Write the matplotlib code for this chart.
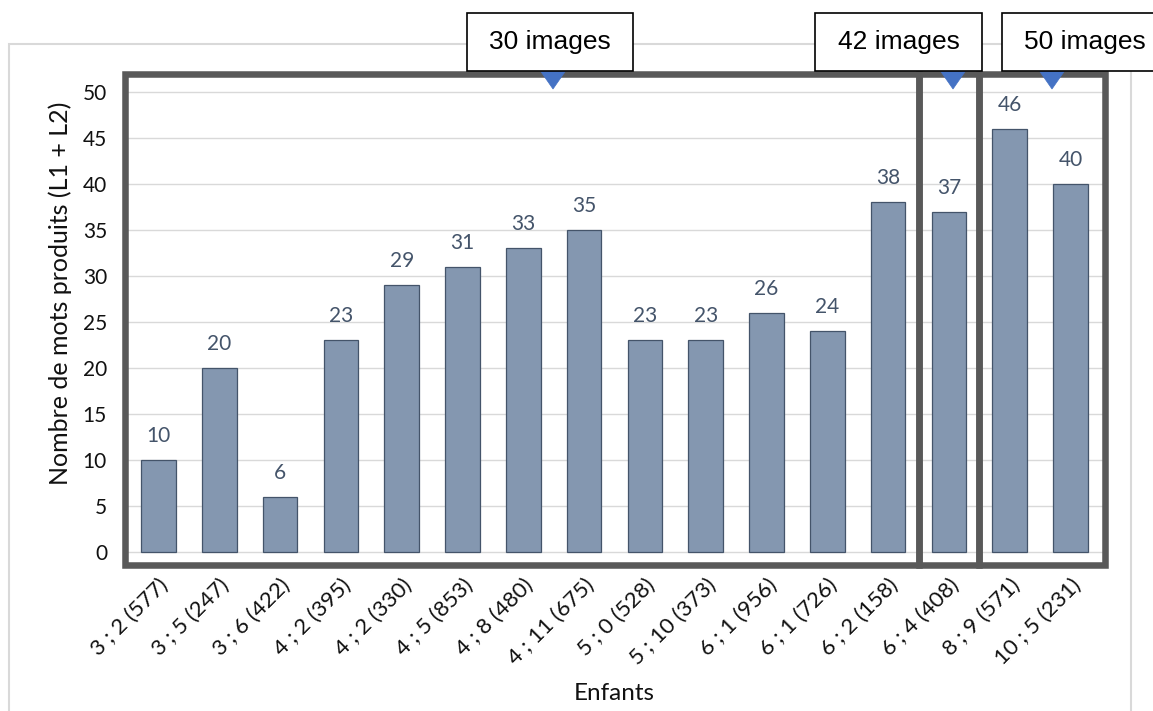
import matplotlib
matplotlib.use("Agg")
import matplotlib.pyplot as plt
from matplotlib.patches import Rectangle, Polygon
import matplotlib.transforms as mtransforms

# Children: age (years ; months) and number of tokens
enfants = ["3 ; 2 (577)", "3 ; 5 (247)", "3 ; 6 (422)", "4 ; 2 (395)",
           "4 ; 2 (330)", "4 ; 5 (853)", "4 ; 8 (480)", "4 ; 11 (675)",
           "5 ; 0 (528)", "5 ; 10 (373)", "6 ; 1 (956)", "6 ; 1 (726)",
           "6 ; 2 (158)", "6 ; 4 (408)", "8 ; 9 (571)", "10 ; 5 (231)"]
mots = [10, 20, 6, 23, 29, 31, 33, 35, 23, 23, 26, 24, 38, 37, 46, 40]

# Picture-set groups: label and index of the last child in each group
groupes = ["30 images", "42 images", "50 images"]
groupe_fin = [12, 13, 15]

yticks = list(range(0, 51, 5))

W, H, DPI = 1153, 711, 100
fig = plt.figure(figsize=(W / DPI, H / DPI), dpi=DPI)
fig.patch.set_facecolor("white")


def fx(px):
    return px / W


def fy(py):
    return 1 - py / H


BODY = "Lato"
BOX_FONT = "Liberation Sans"

# Axes frame (outer edges of the thick group boxes)
left_px, right_px, top_px, bot_px = 124.5, 1104.5, 73.5, 565.0
ax = fig.add_axes([fx(left_px), fy(bot_px), fx(right_px) - fx(left_px),
                   fy(top_px) - fy(bot_px)])

n = len(mots)
step = (1101 - 128) / n
pad = (128 - left_px) / step
ax.set_xlim(-0.5 - pad, n - 0.5 + pad)
# y scale: 0 at 552 px, 50 at 92 px
ppu = (552 - 92) / 50
ax.set_ylim(-(bot_px - 552) / ppu, (552 - top_px) / ppu)

for s in ax.spines.values():
    s.set_visible(False)

ax.set_axisbelow(True)
ax.set_yticks(yticks)
ax.yaxis.grid(True, color="#D9D9D9", linewidth=1.0)
ax.xaxis.grid(False)

x = list(range(n))
ax.bar(x, mots, width=0.57, color="#8497B0", edgecolor="#44546A",
       linewidth=0.9, zorder=2)

for xi, v in zip(x, mots):
    ax.annotate(str(v), (xi, v), xytext=(0, 13), textcoords="offset points",
                ha="center", va="baseline", color="#44546A",
                fontsize=15, family=BODY)

ax.tick_params(axis="y", length=0, pad=12.6, labelsize=15, labelcolor="#111111")
for lab in ax.get_yticklabels():
    lab.set_family(BODY)

ax.set_xticks(x)
ax.set_xticklabels(enfants, rotation=45, ha="right", va="top",
                   rotation_mode="anchor", fontsize=16, family=BODY,
                   color="#111111")
ax.tick_params(axis="x", length=0, pad=7.2)

ax.set_xlabel("Enfants", fontsize=17.5, family=BODY, color="#111111")
ax.xaxis.set_label_coords(0.5, (bot_px - 683) / (bot_px - top_px))
ax.set_ylabel("Nombre de mots produits (L1 + L2)", fontsize=18, family=BODY,
              color="#111111")
ax.yaxis.set_label_coords((72 - left_px) / (right_px - left_px),
                          (bot_px - 293) / (bot_px - top_px))

# Thick boxes around each picture-set group
xmin, xmax = ax.get_xlim()
bounds = [xmin] + [e + 0.5 for e in groupe_fin[:-1]] + [xmax]
blend = mtransforms.blended_transform_factory(ax.transData, ax.transAxes)
for i in range(len(groupes)):
    ax.add_patch(Rectangle((bounds[i], 0), bounds[i + 1] - bounds[i], 1,
                           transform=blend, fill=False, edgecolor="#595959",
                           linewidth=4.7, joinstyle="miter", clip_on=False,
                           zorder=4))

# Light chart-area border
fig.patches.append(Rectangle((fx(9), fy(720)), fx(1131) - fx(9), fy(44) - fy(720),
                             transform=fig.transFigure, fill=False,
                             edgecolor="#D9D9D9", linewidth=1.5, zorder=0.5))

# Callout pointers and labels
pointer_px = [553, 953, 1052]
callout_px = [(467, 633), (815, 982), (1002, 1168)]
for (x0, x1), pc, txt in zip(callout_px, pointer_px, groupes):
    fig.patches.append(Polygon([(fx(pc - 12.5), fy(71)), (fx(pc + 12.5), fy(71)),
                                (fx(pc), fy(89))], closed=True,
                               transform=fig.transFigure, facecolor="#4472C4",
                               edgecolor="#4472C4", linewidth=0.5, zorder=6))
    fig.patches.append(Rectangle((fx(x0), fy(71)), fx(x1) - fx(x0), fy(13) - fy(71),
                                 transform=fig.transFigure, facecolor="white",
                                 edgecolor="black", linewidth=1.2, zorder=7))
    fig.text(fx((x0 + x1) / 2), fy(42), txt, ha="center", va="center",
             fontsize=19, family=BOX_FONT, color="black", zorder=8)

fig.savefig("out.png", dpi=DPI, facecolor="white")
